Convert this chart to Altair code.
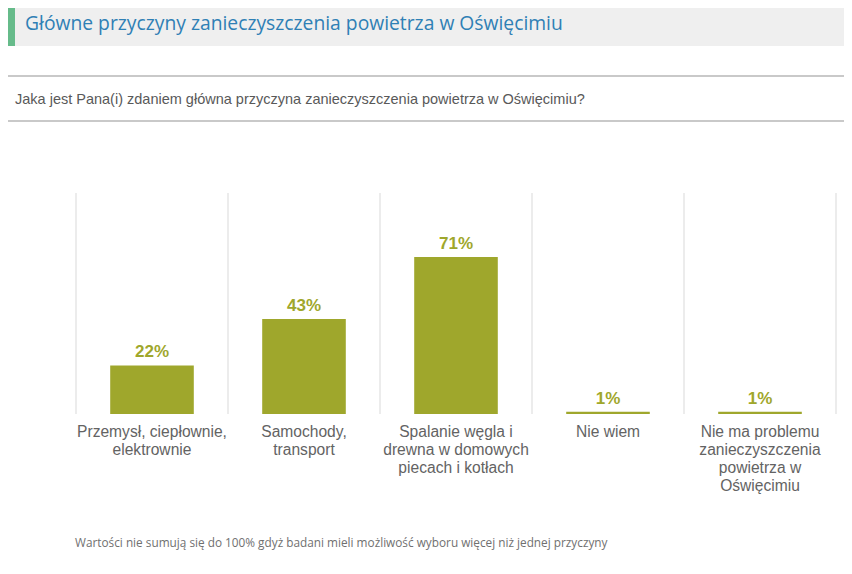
import altair as alt
import pandas as pd

categories = [
    "Przemysł, ciepłownie,\nelektrownie",
    "Samochody,\ntransport",
    "Spalanie węgla i\ndrewna w domowych\npiecach i kotłach",
    "Nie wiem",
    "Nie ma problemu\nzanieczyszczenia\npowietrza w\nOświęcimiu",
]
values = [22, 43, 71, 1, 1]
value_labels = ["22%", "43%", "71%", "1%", "1%"]

title_text = "Główne przyczyny zanieczyszczenia powietrza w Oświęcimiu"
question_text = "Jaka jest Pana(i) zdaniem główna przyczyna zanieczyszczenia powietrza w Oświęcimiu?"
footnote_text = "Wartości nie sumują się do 100% gdyż badani mieli możliwość wyboru więcej niż jednej przyczyny"

df = pd.DataFrame({"cat": categories, "val": values, "lab": value_labels})
last_df = df.iloc[[-1]]

BAR = "#9fa72c"
W, H = 760, 221

xscale = alt.Scale(domain=categories, paddingInner=0, paddingOuter=0)
yscale = alt.Scale(domain=[0, 100])

xenc = alt.X(
    "cat:N", sort=categories, scale=xscale,
    axis=alt.Axis(
        title=None, ticks=False, domain=False, grid=False,
        labelAngle=0, labelAlign="center", labelFont="Liberation Sans", labelFontSize=15.6,
        labelColor="#636363", labelPadding=10, labelLineHeight=18,
        labelBaseline="top", labelLimit=300,
        labelExpr="split(datum.label, '\\n')",
    ),
)

base = alt.Chart(df)

grid = base.mark_rule(color="#d9d9d9", strokeWidth=1).encode(
    x=alt.X("cat:N", sort=categories, scale=xscale, bandPosition=0),
    y=alt.value(0), y2=alt.value(H),
)
grid_last = alt.Chart(last_df).mark_rule(color="#d9d9d9", strokeWidth=1).encode(
    x=alt.X("cat:N", sort=categories, scale=xscale, bandPosition=1),
    y=alt.value(0), y2=alt.value(H),
)

bars = base.mark_bar(color=BAR, width=alt.RelativeBandSize(0.55)).encode(
    x=xenc,
    y=alt.Y("val:Q", scale=yscale, axis=None),
)

labels = base.mark_text(
    color=BAR, font="Liberation Sans", fontWeight="bold", fontSize=17,
    baseline="alphabetic", dy=-8,
).encode(
    x=alt.X("cat:N", sort=categories, scale=xscale),
    y=alt.Y("val:Q", scale=yscale),
    text="lab:N",
)

one = alt.Data(values=[{"a": 1}])

header_box = alt.Chart(one).mark_rect(color="#efefef").encode(
    x=alt.value(-68), x2=alt.value(780), y=alt.value(-190), y2=alt.value(-147)
)
stripe = alt.Chart(one).mark_rect(color="#66bb8a").encode(
    x=alt.value(-68), x2=alt.value(-61), y=alt.value(-190), y2=alt.value(-147)
)
title = alt.Chart(one).mark_text(
    align="left", baseline="middle", font="Open Sans", fontSize=19.3, color="#2f80b5"
).encode(x=alt.value(-51), y=alt.value(-169), text=alt.value(title_text))

line1 = alt.Chart(one).mark_rule(color="#c9c9c9", strokeWidth=2).encode(
    x=alt.value(-69), x2=alt.value(780), y=alt.value(-117)
)
line2 = alt.Chart(one).mark_rule(color="#c9c9c9", strokeWidth=2).encode(
    x=alt.value(-69), x2=alt.value(780), y=alt.value(-72)
)
question = alt.Chart(one).mark_text(
    align="left", baseline="middle", font="Liberation Sans", fontSize=14.5, color="#595959"
).encode(x=alt.value(-61), y=alt.value(-93), text=alt.value(question_text))

footnote = alt.Chart(one).mark_text(
    align="left", baseline="middle", font="Open Sans", fontSize=11.8, color="#707070"
).encode(x=alt.value(-1), y=alt.value(350), text=alt.value(footnote_text))

chart = alt.layer(
    header_box, stripe, title, line1, line2, question, footnote,
    grid, grid_last, bars, labels,
).properties(
    width=W, height=H,
    autosize=alt.AutoSizeParams(type="none"),
    padding={"left": 68, "top": 185, "right": 8, "bottom": 152},
    background="white",
).configure_view(stroke=None)

chart.save("out.html", embed_options={"renderer": "svg", "actions": False})
